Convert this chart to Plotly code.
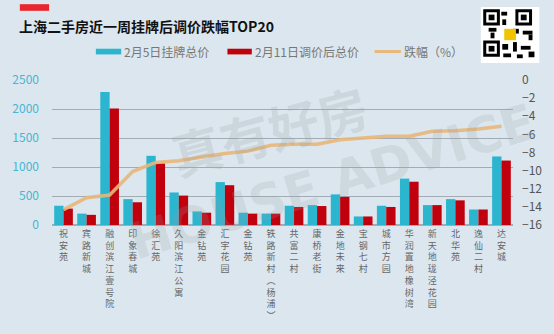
import plotly.graph_objects as go

categories = ["祝安苑", "宾路新城", "融创滨江壹号院", "印象春城", "徐汇苑", "久阳滨江公寓", "金钻苑",
              "汇宇花园", "金钻苑 ", "铁路新村︵杨浦︶", "共富二村", "康桥老街", "金地未来", "宝钢七村",
              "城市方园", "华润置地橡树湾", "新天地珑泾花园", "北华苑", "逸仙二村", "达安城"]
price_feb5 = [332, 196, 2292, 446, 1193, 561, 234, 740, 212, 196, 332, 343, 528, 147, 332, 800, 343, 446, 267, 1182]
price_feb11 = [283, 175, 2010, 392, 1062, 507, 212, 686, 196, 196, 311, 327, 485, 147, 311, 746, 343, 425, 267, 1111]
drop_pct = [-14.3, -13.0, -12.7, -10.1, -9.1, -8.9, -8.5, -8.1, -7.85, -7.2, -7.1, -7.1, -6.6, -6.4, -6.2, -6.2,
            -5.65, -5.6, -5.4, -5.1]
left_ticks = [0, 500, 1000, 1500, 2000, 2500]
right_ticks = [0, -2, -4, -6, -8, -10, -12, -14, -16]

tick_text = ["<br>".join(list(c.strip())) for c in categories]

CYAN = "#2bb5cf"
RED = "#c0000c"
TAN = "#e8b779"
BG = "#dce6ee"

fig = go.Figure()
fig.add_trace(go.Bar(x=categories, y=price_feb5, name="2月5日挂牌总价", marker_color=CYAN,
                     marker_line_width=0, showlegend=False))
fig.add_trace(go.Bar(x=categories, y=price_feb11, name="2月11日调价后总价", marker_color=RED,
                     marker_line_width=0, showlegend=False))
fig.add_trace(go.Scatter(x=categories, y=drop_pct, name="跌幅（%）", mode="lines", yaxis="y2",
                         line=dict(color=TAN, width=3.5), opacity=0.9, showlegend=False))

font_family = "Noto Sans CJK SC, Noto Sans, sans-serif"

fig.update_layout(
    width=554, height=334,
    margin=dict(l=47, r=34, t=80, b=101),
    paper_bgcolor=BG, plot_bgcolor=BG,
    font=dict(family=font_family, size=11, color="#666"),
    barmode="group", bargap=0.19, bargroupgap=0,
    xaxis=dict(tickmode="array", tickvals=categories, ticktext=tick_text,
               tickangle=0, tickfont=dict(size=9, color="#666"), showgrid=False,
               showline=False, ticks="", ticklabelstandoff=2),
    yaxis=dict(range=[0, 2500], tickvals=left_ticks, showgrid=True, gridcolor="#a3acb4",
               gridwidth=1, zeroline=True, zerolinecolor="#a3acb4",
               tickfont=dict(size=12, color="#45b6d2"), ticklabelstandoff=12, showline=False),
    yaxis2=dict(range=[-16, 0], tickvals=right_ticks, overlaying="y", side="right",
                showgrid=False, zeroline=False, tickfont=dict(size=12, color="#555"),
                ticklabelstandoff=8, showline=False),
)

def px_x(p):
    return (p - 47) / 473

def px_y(p):
    return (233 - p) / 153

# Watermark
fig.add_annotation(text="<b>真有好房</b>", xref="paper", yref="paper", x=px_x(270), y=px_y(132),
                   xanchor="center", yanchor="middle",
                   showarrow=False, textangle=-15, font=dict(size=50, color="rgba(150,158,166,0.22)"))
fig.add_annotation(text="<b>HOUSE ADVICE</b>", xref="paper", yref="paper", x=px_x(335), y=px_y(188),
                   xanchor="center", yanchor="middle",
                   showarrow=False, textangle=-17,
                   font=dict(size=50, color="rgba(150,158,166,0.2)", family="DejaVu Sans"))

# Title and decorative red tab
fig.add_shape(type="rect", xref="paper", yref="paper", x0=px_x(14), x1=px_x(44), y0=px_y(7), y1=px_y(0),
              fillcolor="#e8262d", line_width=0)
fig.add_annotation(text="<b>上海二手房近一周挂牌后调价跌幅TOP20</b>", xref="paper", yref="paper",
                   x=px_x(11), y=px_y(23), xanchor="left", yanchor="middle", showarrow=False,
                   font=dict(size=14, color="#111", family=font_family))

# Manual legend
legend_items = [(92, 118, CYAN, "2月5日挂牌总价", "rect"),
                (227, 252, RED, "2月11日调价后总价", "rect"),
                (378, 405, TAN, "跌幅（%）", "line")]
for x0, x1, col, label, kind in legend_items:
    if kind == "rect":
        fig.add_shape(type="rect", xref="paper", yref="paper", x0=px_x(x0), x1=px_x(x1),
                      y0=px_y(53), y1=px_y(47), fillcolor=col, line_width=0)
    else:
        fig.add_shape(type="line", xref="paper", yref="paper", x0=px_x(x0), x1=px_x(x1),
                      y0=px_y(50), y1=px_y(50), line=dict(color=col, width=3))
    fig.add_annotation(text=label, xref="paper", yref="paper", x=px_x(x1 + 1), y=px_y(50),
                       xanchor="left", yanchor="middle", showarrow=False,
                       font=dict(size=12, color="#777", family=font_family))

# QR code placeholder
fig.add_shape(type="rect", xref="paper", yref="paper", x0=px_x(487), x1=px_x(547), y0=px_y(62), y1=px_y(3),
              fillcolor="white", line_width=0)
for (qx, qy) in [(491, 7), (524, 7), (491, 40)]:
    fig.add_shape(type="rect", xref="paper", yref="paper", x0=px_x(qx), x1=px_x(qx + 14),
                  y0=px_y(qy + 14), y1=px_y(qy), fillcolor="white", line=dict(color="black", width=3))
    fig.add_shape(type="rect", xref="paper", yref="paper", x0=px_x(qx + 4), x1=px_x(qx + 10),
                  y0=px_y(qy + 10), y1=px_y(qy + 4), fillcolor="black", line_width=0)
for (qx, qy, w, h) in [(508, 8, 6, 4), (509, 16, 4, 6), (495, 25, 8, 4), (520, 26, 6, 5), (530, 28, 10, 4),
                       (509, 42, 6, 6), (520, 40, 4, 10), (528, 44, 10, 4), (536, 50, 6, 6), (510, 52, 8, 4),
                       (524, 53, 6, 4), (497, 30, 4, 6), (536, 32, 4, 6)]:
    fig.add_shape(type="rect", xref="paper", yref="paper", x0=px_x(qx), x1=px_x(qx + w),
                  y0=px_y(qy + h), y1=px_y(qy), fillcolor="black", line_width=0)
fig.add_shape(type="rect", xref="paper", yref="paper", x0=px_x(511), x1=px_x(523), y0=px_y(38), y1=px_y(26),
              fillcolor="#f2c400", line_width=0)

fig.write_html("out.html")
